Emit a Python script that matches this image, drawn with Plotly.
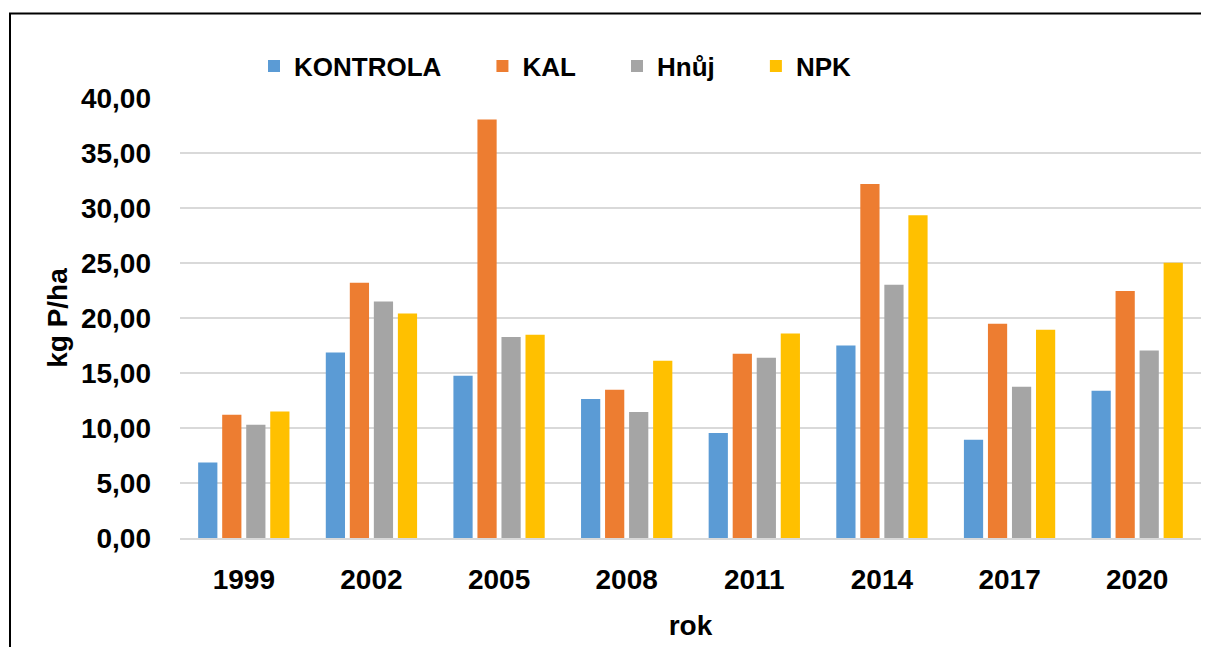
import plotly.graph_objects as go

years = ["1999", "2002", "2005", "2008", "2011", "2014", "2017", "2020"]
kontrola = [6.87, 16.87, 14.75, 12.63, 9.55, 17.50, 8.94, 13.39]
kal = [11.20, 23.20, 38.05, 13.48, 16.75, 32.18, 19.48, 22.45]
hnuj = [10.30, 21.50, 18.27, 11.45, 16.39, 23.03, 13.75, 17.05]
npk = [11.50, 20.40, 18.48, 16.12, 18.60, 29.33, 18.94, 25.03]

series = [
    ("KONTROLA", kontrola, "#5B9BD5"),
    ("KAL", kal, "#ED7D31"),
    ("Hnůj", hnuj, "#A5A5A5"),
    ("NPK", npk, "#FFC000"),
]

FONT = "Liberation Sans"
PAD = "\u00a0" * 5  # extra room between legend entries, like Excel

# the page body has an 8px margin, so the figure is 16px smaller than the window
W, H = 1193, 639
L, T, R, B = 172, 90, 0, 108.5
PW, PH = W - L - R, H - T - B

fig = go.Figure()
for name, vals, color in series:
    fig.add_trace(go.Bar(
        x=years, y=vals, name=name + PAD,
        marker=dict(color=color, line=dict(width=0)),
    ))

fig.update_layout(
    width=W, height=H,
    barmode="group", bargap=0.247, bargroupgap=0.2,
    separators=", ",
    plot_bgcolor="white", paper_bgcolor="white",
    margin=dict(l=L, r=R, t=T, b=B, autoexpand=False),
    font=dict(family=FONT, size=28, color="black", weight="bold"),
    legend=dict(
        orientation="h", x=(246 - L) / PW, y=(T + PH - 58) / PH,
        xanchor="left", yanchor="middle",
        font=dict(family=FONT, size=26, weight="bold"),
        itemwidth=30, traceorder="normal",
    ),
    showlegend=True,
)
fig.update_yaxes(
    range=[0, 40], dtick=5, tickformat=".2f",
    showgrid=True, gridcolor="#d9d9d9", gridwidth=2,
    zeroline=False, showline=False, ticks="",
    ticklabelstandoff=28,
    tickfont=dict(family=FONT, size=28, weight="bold"),
    title=dict(text="kg P/ha", standoff=5,
               font=dict(family=FONT, size=28, weight="bold")),
)
fig.update_xaxes(
    showline=True, linecolor="#d9d9d9", linewidth=2, ticks="",
    ticklabelstandoff=15,
    tickfont=dict(family=FONT, size=28, weight="bold"),
    title=dict(text="rok", standoff=22,
               font=dict(family=FONT, size=28, weight="bold")),
)
fig.add_shape(
    type="rect", xref="paper", yref="paper",
    x0=(2 - L) / PW, x1=(W + 20 - L) / PW,
    y0=(T + PH - (H + 20)) / PH, y1=(T + PH - 5.3) / PH,
    line=dict(color="black", width=2), fillcolor="rgba(0,0,0,0)",
    layer="above",
)

fig.write_html("out.html")
